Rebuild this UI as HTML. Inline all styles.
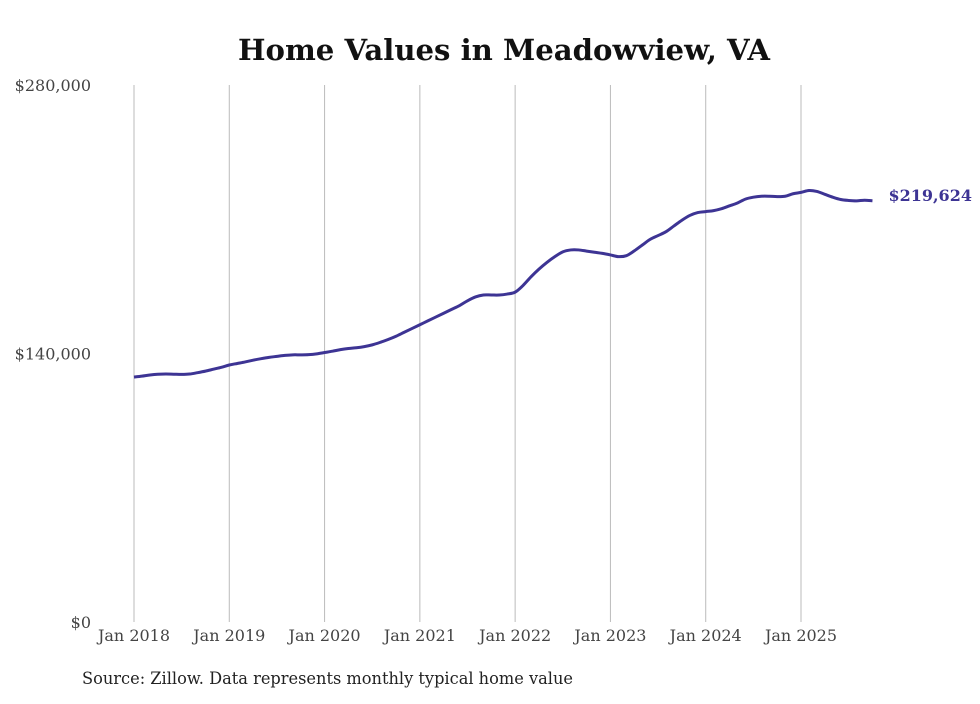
<!DOCTYPE html>
<html><head><meta charset="utf-8"><style>
body{margin:0;background:#fff;}
svg text{font-family:"DejaVu Serif","Liberation Serif",serif;}
</style></head><body>
<svg width="980" height="699" viewBox="0 0 980 699">
<text x="504" y="60" text-anchor="middle" font-size="29" font-weight="bold" fill="#111" textLength="532" lengthAdjust="spacingAndGlyphs">Home Values in Meadowview, VA</text>
<g id="grid"></g>
<g id="yaxis"></g>
<g id="xaxis"></g>
<path id="line" fill="none" stroke="#3d3494" stroke-width="3" stroke-linejoin="round"></path>
<text id="endlabel" font-size="16" font-weight="bold" fill="#3d3494"></text>
<text x="82" y="684" font-size="16.4" fill="#222" textLength="491" lengthAdjust="spacingAndGlyphs">Source: Zillow. Data represents monthly typical home value</text>
</svg>
<script>
const yTicks=[0,140000,280000];
const yTickLabels=["$0","$140,000","$280,000"];
const xYears=[2018,2019,2020,2021,2022,2023,2024,2025];
const xTickLabels=["Jan 2018","Jan 2019","Jan 2020","Jan 2021","Jan 2022","Jan 2023","Jan 2024","Jan 2025"];
const values2018=[127.7,128.2,128.8,129.2,129.3,129.2,129.1,129.3,130,130.8,131.8,132.8];
const values2019=[134,134.8,135.6,136.5,137.3,138,138.5,139,139.3,139.3,139.4,139.8];
const values2020=[140.5,141.2,142,142.6,143,143.6,144.5,145.8,147.3,149,151,153];
const values2021=[155,157,159,161,163,165,167.5,169.5,170.5,170.5,170.5,171];
const values2022=[172,175.5,180,184,187.5,190.5,193,194,194,193.4,192.8,192.2];
const values2023=[191.4,190.5,191,193.5,196.5,199.5,201.5,203.5,206.5,209.5,212,213.5];
const values2024=[214,214.5,215.5,217,218.5,220.5,221.5,222,222,221.8,222,223.3];
const values2025=[224,225,224.5,223,221.5,220.3,219.8,219.6,219.9,219.624];
const values=[].concat(values2018,values2019,values2020,values2021,values2022,values2023,values2024,values2025).map(v=>v*1000);
const NS="http://www.w3.org/2000/svg";
const x=m=>134+m*(801-134)/84;
const y=v=>622-v/280000*537;
const grid=document.getElementById('grid'),ya=document.getElementById('yaxis'),xa=document.getElementById('xaxis');
xYears.forEach((yr,i)=>{
 const m=(yr-2018)*12;
 const l=document.createElementNS(NS,'line');
 l.setAttribute('x1',x(m));l.setAttribute('x2',x(m));l.setAttribute('y1',85);l.setAttribute('y2',622);
 l.setAttribute('stroke','#bbb');l.setAttribute('stroke-width','1');
 
 
 grid.appendChild(l);
 const t=document.createElementNS(NS,'text');
 t.setAttribute('x',x(m));t.setAttribute('y',641);t.setAttribute('text-anchor','middle');
 t.setAttribute('font-size','16');t.setAttribute('fill','#444');
 t.textContent=xTickLabels[i];
 
 
 xa.appendChild(t);
});
yTicks.forEach((v,i)=>{
 const t=document.createElementNS(NS,'text');
 t.setAttribute('x',91);t.setAttribute('y',y(v)+6);t.setAttribute('text-anchor','end');
 t.setAttribute('font-size','16');t.setAttribute('fill','#444');
 t.textContent=yTickLabels[i];
 
 
 ya.appendChild(t);
});
const pts=values.map((v,i)=>[x(i),y(v)]);
let d='M'+pts[0][0]+','+pts[0][1];
for(let i=1;i<pts.length;i++){
 const p0=pts[i-2]||pts[i-1],p1=pts[i-1],p2=pts[i],p3=pts[i+1]||pts[i];
 d+=' C'+(p1[0]+(p2[0]-p0[0])/6)+','+(p1[1]+(p2[1]-p0[1])/6)+' '+(p2[0]-(p3[0]-p1[0])/6)+','+(p2[1]-(p3[1]-p1[1])/6)+' '+p2[0]+','+p2[1];
}
document.getElementById('line').setAttribute('d',d);
const last=pts[pts.length-1],lab=document.getElementById('endlabel');
lab.setAttribute('x',last[0]+16);lab.setAttribute('y',last[1]+0);
lab.textContent='$'+Math.round(values[values.length-1]).toLocaleString('en-US');
</script>
</body></html>
